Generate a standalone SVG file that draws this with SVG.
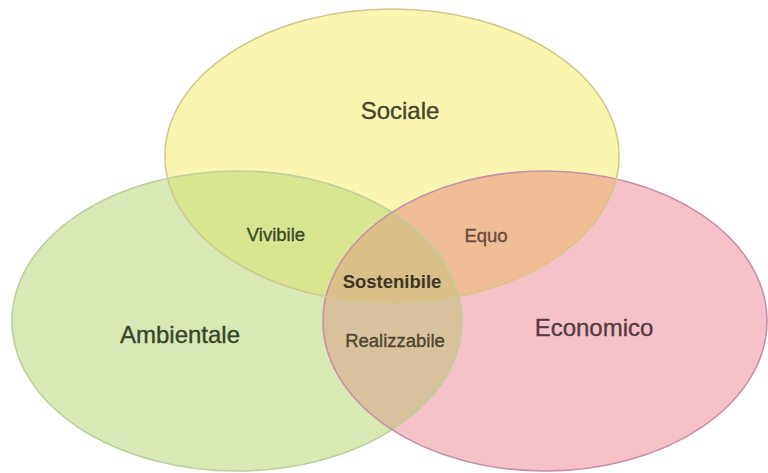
<svg xmlns="http://www.w3.org/2000/svg" width="768" height="473" viewBox="0 0 768 473">
  <style>
    .lbl { font-family: "Liberation Sans", Arial, sans-serif; text-anchor: middle; stroke-width: 0.35; }
    .big { font-size: 24px; }
    .small { font-size: 18.5px; }
    .outline { fill: none; stroke-width: 1.6; }
  </style>
  <defs>
    <clipPath id="cS"><ellipse cx="392" cy="156" rx="227" ry="147"/></clipPath>
    <clipPath id="cA"><ellipse cx="237" cy="321" rx="225" ry="150"/></clipPath>
    <clipPath id="cE"><ellipse cx="545" cy="321" rx="222" ry="150"/></clipPath>
  </defs>
  <rect width="768" height="473" fill="#ffffff"/>

  <g id="ambientale">
    <ellipse cx="237" cy="321" rx="225" ry="150" fill="#d8e9b6"/>
  </g>
  <g id="economico">
    <ellipse cx="545" cy="321" rx="222" ry="150" fill="#f6c2c9"/>
  </g>
  <g id="sociale">
    <ellipse cx="392" cy="156" rx="227" ry="147" fill="#faf6b0"/>
  </g>

  <g id="overlaps">
    <ellipse id="vivibile-area" cx="237" cy="321" rx="225" ry="150" fill="#d8e690" clip-path="url(#cS)"/>
    <ellipse id="equo-area" cx="545" cy="321" rx="222" ry="150" fill="#f1bd95" clip-path="url(#cS)"/>
    <ellipse id="realizzabile-area" cx="545" cy="321" rx="222" ry="150" fill="#d8c29e" clip-path="url(#cA)"/>
    <g clip-path="url(#cS)">
      <ellipse id="sostenibile-area" cx="545" cy="321" rx="222" ry="150" fill="#d8c086" clip-path="url(#cA)"/>
    </g>
  </g>

  <g id="outlines">
    <ellipse class="outline" cx="237" cy="321" rx="225" ry="150" stroke="#bccf9c"/>
    <ellipse class="outline" cx="545" cy="321" rx="222" ry="150" stroke="#c890a6"/>
    <ellipse class="outline" cx="392" cy="156" rx="227" ry="147" stroke="#d2c78c"/>
  </g>

  <g id="labels">
    <text class="lbl big" x="400" y="119" fill="#45452e" stroke="#45452e">Sociale</text>
    <text class="lbl big" x="180" y="343" fill="#36452c" stroke="#36452c">Ambientale</text>
    <text class="lbl big" x="594" y="336" fill="#573a42" stroke="#573a42">Economico</text>
    <text class="lbl small" x="276" y="241" fill="#3a4a26" stroke="#3a4a26">Vivibile</text>
    <text class="lbl small" x="486" y="242" fill="#6a4a40" stroke="#6a4a40">Equo</text>
    <text class="lbl small" x="392" y="288" fill="#3d3626" font-weight="bold">Sostenibile</text>
    <text class="lbl small" x="395" y="347" fill="#4d4535" stroke="#4d4535">Realizzabile</text>
  </g>
</svg>
